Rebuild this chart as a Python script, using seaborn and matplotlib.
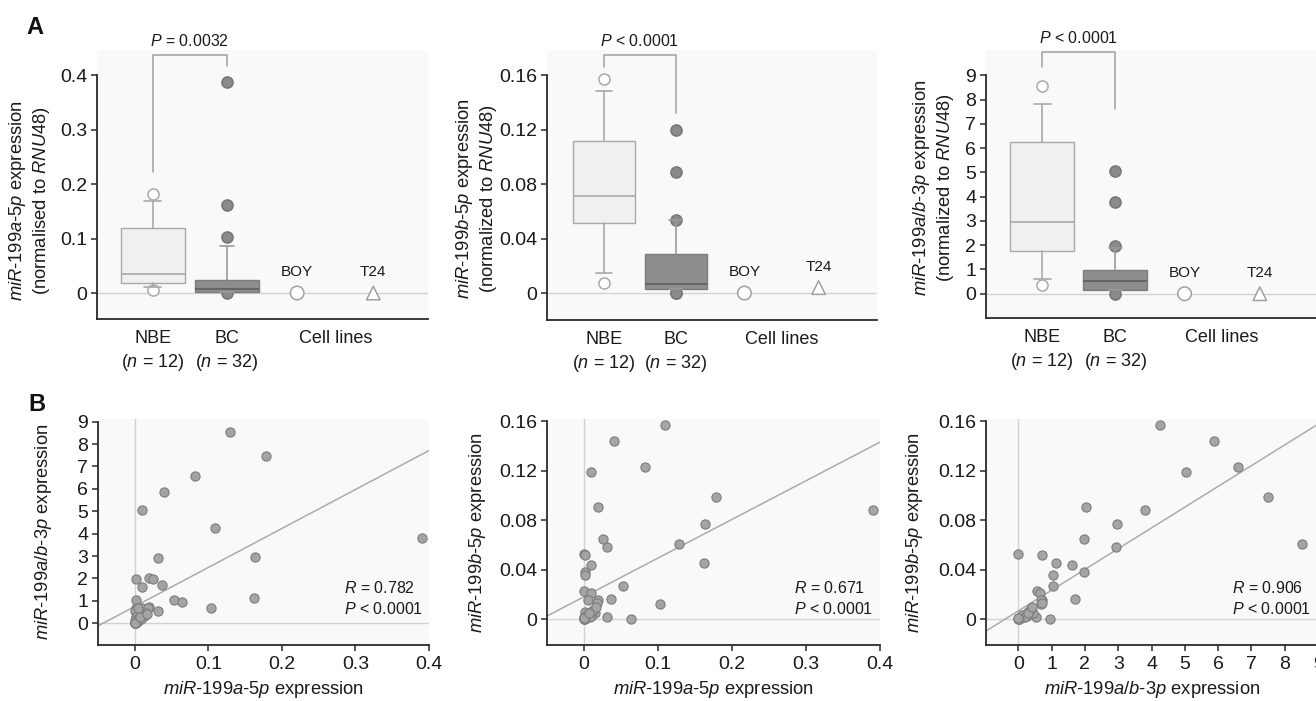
import numpy as np
import pandas as pd
import matplotlib
matplotlib.use("Agg")
import matplotlib.pyplot as plt
import seaborn as sns

sns.set_theme(style="white")
plt.rcParams['font.family'] = ['Liberation Sans', 'DejaVu Sans']
plt.rcParams['mathtext.fontset'] = 'custom'
plt.rcParams['mathtext.rm'] = 'Liberation Sans'
plt.rcParams['mathtext.it'] = 'Liberation Sans:italic'
plt.rcParams['mathtext.bf'] = 'Liberation Sans:bold'

# ---------------- DATA ----------------
groups = ["NBE", "BC"]
group_n = [12, 32]
cell_lines = ["BOY", "T24"]

# Panel A, miR-199a-5p (box statistics per group: NBE, BC)
a5p_q1 = [0.019, 0.001]
a5p_med = [0.035, 0.008]
a5p_q3 = [0.119, 0.024]
a5p_whislo = [0.0104, 0.001]
a5p_whishi = [0.168, 0.086]
a5p_fliers = [[0.181, 0.0055], [0.388, 0.162, 0.103, 0.0]]
a5p_cells = [0.0, 0.0]
a5p_ptext = "$\\mathit{P}$ = 0.0032"

# Panel A, miR-199b-5p
b5p_q1 = [0.0512, 0.0032]
b5p_med = [0.0713, 0.0069]
b5p_q3 = [0.1115, 0.0287]
b5p_whislo = [0.0145, 0.0032]
b5p_whishi = [0.1485, 0.0537]
b5p_fliers = [[0.157, 0.0076], [0.120, 0.0887, 0.0537, 0.0, 0.0]]
b5p_cells = [0.0, 0.004]
b5p_ptext = "$\\mathit{P}$ < 0.0001"

# Panel A, miR-199a/b-3p
ab3p_q1 = [1.77, 0.17]
ab3p_med = [2.97, 0.53]
ab3p_q3 = [6.24, 0.99]
ab3p_whislo = [0.59, 0.17]
ab3p_whishi = [7.80, 1.88]
ab3p_fliers = [[8.55, 0.36], [5.04, 3.79, 1.96, 0.0]]
ab3p_cells = [0.0, 0.0]
ab3p_ptext = "$\\mathit{P}$ < 0.0001"

# Panel B, per-sample expression values
sample_a5p = [0.129, 0.179, 0.082, 0.040, 0.010, 0.109, 0.390, 0.163, 0.031, 0.019,
              0.025, 0.001, 0.037, 0.010, 0.162, 0.053, 0.064, 0.103, 0.001, 0.031,
              0.000, 0.001, 0.000, 0.010, 0.019, 0.005, 0.018, 0.014, 0.002, 0.015,
              0.009, 0.000, 0.006, 0.003, 0.000, 0.000, 0.001, 0.004, 0.012, 0.008,
              0.002, 0.000, 0.007, 0.016]
sample_b5p = [0.061, 0.099, 0.123, 0.144, 0.119, 0.157, 0.088, 0.077, 0.058, 0.091,
              0.065, 0.038, 0.016, 0.044, 0.045, 0.027, 0.000, 0.012, 0.036, 0.002,
              0.053, 0.052, 0.023, 0.0215, 0.0156, 0.0156, 0.0129, 0.0069, 0.0061, 0.005,
              0.0027, 0.002, 0.004, 0.001, 0.000, 0.000, 0.001, 0.003, 0.007, 0.002,
              0.000, 0.001, 0.005, 0.010]
sample_ab3p = [8.52, 7.49, 6.59, 5.87, 5.05, 4.27, 3.80, 2.97, 2.92, 2.03,
               1.96, 1.98, 1.71, 1.61, 1.13, 1.05, 0.95, 0.68, 1.03, 0.53,
               0.00, 0.70, 0.57, 0.66, 0.72, 0.67, 0.70, 0.38, 0.30, 0.45,
               0.25, 0.15, 0.22, 0.08, 0.00, 0.02, 0.05, 0.12, 0.34, 0.20,
               0.03, 0.00, 0.28, 0.40]

# fitted lines (slope, intercept) and statistics
fit_slope = [17.4, 0.313, 0.0168]
fit_intercept = [0.752, 0.0181, 0.0066]
corr_r = ["0.782", "0.671", "0.906"]
corr_p = ["< 0.0001", "< 0.0001", "< 0.0001"]

df = pd.DataFrame({"a5p": sample_a5p, "b5p": sample_b5p, "ab3p": sample_ab3p})

# ---------------- STYLE ----------------
W, H = 1316, 701
fig = plt.figure(figsize=(W / 100, H / 100), dpi=100)
bg = "#f9f9f9"
zero_c = "#d2d2d2"
spine_c = "#2a2a2a"
txt_c = "#1a1a1a"
cat_pos = [0, 1, 1.95, 2.98]
TICK_FS = 14
LABEL_FS = 13.2


def add_ax(l, r, t, b):
    return fig.add_axes([l / W, (H - b) / H, (r - l) / W, (b - t) / H])


def style_axes(ax, ylim, yticks, yticklabels, xticks_on):
    ax.set_facecolor(bg)
    for s in ["top", "right"]:
        ax.spines[s].set_visible(False)
    for s in ["left", "bottom"]:
        ax.spines[s].set_color(spine_c)
        ax.spines[s].set_linewidth(1.3)
    ax.set_ylim(*ylim)
    ax.set_yticks(yticks)
    ax.set_yticklabels(yticklabels)
    ax.spines["left"].set_bounds(ylim[0], yticks[-1])
    ax.tick_params(axis="y", left=True, length=4, width=1.1, color=spine_c,
                   labelsize=TICK_FS, labelcolor=txt_c, pad=3)
    ax.tick_params(axis="x", bottom=xticks_on, length=4 if xticks_on else 0,
                   width=1.1, color=spine_c, labelsize=TICK_FS, labelcolor=txt_c, pad=4)
    ax.grid(False)


def box_panel(ax, q1, med, q3, lo, hi, fliers, cells, xlim, ylim, yticks, ytl,
              ylabel, ptext, bracket, ptext_y, label_xy):
    style_axes(ax, ylim, yticks, ytl, False)
    ax.set_xlim(*xlim)
    ax.axhline(0, color=zero_c, lw=1.0, zorder=0.5)
    box_styles = [
        dict(face="#f0f0f0", edge="#a9a9a9", med="#a9a9a9", whisk="#a9a9a9",
             fmfc="white", fmec="#a9a9a9", cw=0.23),
        dict(face="#8d8d8d", edge="#7c7c7c", med="#5e5e5e", whisk="#9a9a9a",
             fmfc="#8a8a8a", fmec="#767676", cw=0.18),
    ]
    for i in range(2):
        st = box_styles[i]
        stats = [dict(q1=q1[i], med=med[i], q3=q3[i], whislo=lo[i], whishi=hi[i],
                      fliers=fliers[i])]
        ax.bxp(stats, positions=[cat_pos[i]], widths=0.87, capwidths=[st["cw"]],
               patch_artist=True, showfliers=True, manage_ticks=False,
               boxprops=dict(facecolor=st["face"], edgecolor=st["edge"], linewidth=1.0,
                             zorder=2.2),
               medianprops=dict(color=st["med"], linewidth=1.2, zorder=2.3),
               whiskerprops=dict(color=st["whisk"], linewidth=1.2, zorder=2.3),
               capprops=dict(color=st["whisk"], linewidth=1.2, zorder=2.3),
               flierprops=dict(marker="o", markerfacecolor=st["fmfc"],
                               markeredgecolor=st["fmec"], markersize=8,
                               markeredgewidth=1.1, linestyle="none", zorder=1.9))
    cdf = pd.DataFrame({"x": cat_pos[2:], "y": cells, "line": cell_lines})
    sns.scatterplot(data=cdf, x="x", y="y", style="line",
                    markers={"BOY": "o", "T24": "^"}, s=95, facecolor="white",
                    edgecolor="#a0a0a0", linewidth=1.1, legend=False, ax=ax, zorder=3)
    for xp, yv, name in zip(cat_pos[2:], cells, cell_lines):
        ax.annotate(name, (xp, yv), xytext=(0, 15), textcoords="offset points",
                    ha="center", va="center", fontsize=11, color=txt_c)
    ax.set_xlabel("")
    ax.set_ylabel("")
    ax.set_xticks([cat_pos[0], cat_pos[1], (cat_pos[2] + cat_pos[3]) / 2])
    ax.set_xticklabels([f"{groups[0]}\n($\\mathit{{n}}$ = {group_n[0]})",
                        f"{groups[1]}\n($\\mathit{{n}}$ = {group_n[1]})",
                        "Cell lines"], fontsize=13, color=txt_c, linespacing=1.35)
    ax.tick_params(axis="x", pad=8)
    top, l0, l1 = bracket
    ax.plot([cat_pos[0], cat_pos[0], cat_pos[1], cat_pos[1]], [l0, top, top, l1],
            color="#a0a0a0", lw=1.1, clip_on=False, zorder=2)
    ax.text(0.5, ptext_y, ptext, ha="center", va="center", fontsize=11.5,
            color=txt_c, clip_on=False)
    ax.text(label_xy[0], label_xy[1], ylabel, transform=ax.transAxes, rotation=90,
            ha="center", va="center", fontsize=LABEL_FS, color=txt_c,
            linespacing=1.2, multialignment="center")


# ---------- Row A ----------
axA1 = add_ax(97, 428, 50, 319)
box_panel(axA1, a5p_q1, a5p_med, a5p_q3, a5p_whislo, a5p_whishi, a5p_fliers, a5p_cells,
          (-0.757, 3.72), (-0.0477, 0.446), [0, 0.1, 0.2, 0.3, 0.4],
          ["0", "0.1", "0.2", "0.3", "0.4"],
          "$\\mathit{miR}$-$\\mathit{199a}$-$\\mathit{5p}$ expression\n(normalised to $\\mathit{RNU48}$)",
          a5p_ptext, (0.437, 0.222, 0.417), 0.462, (-0.205, 0.44))

axA2 = add_ax(547, 877, 50, 320)
box_panel(axA2, b5p_q1, b5p_med, b5p_q3, b5p_whislo, b5p_whishi, b5p_fliers, b5p_cells,
          (-0.79, 3.79), (-0.0198, 0.1786), [0, 0.04, 0.08, 0.12, 0.16],
          ["0", "0.04", "0.08", "0.12", "0.16"],
          "$\\mathit{miR}$-$\\mathit{199b}$-$\\mathit{5p}$ expression\n(normalized to $\\mathit{RNU48}$)",
          b5p_ptext, (0.175, 0.166, 0.132), 0.185, (-0.215, 0.45))

axA3 = add_ax(986, 1316, 50, 318)
box_panel(axA3, ab3p_q1, ab3p_med, ab3p_q3, ab3p_whislo, ab3p_whishi, ab3p_fliers, ab3p_cells,
          (-0.77, 3.75), (-1.0, 10.04), list(range(10)), [str(i) for i in range(10)],
          "$\\mathit{miR}$-$\\mathit{199a/b}$-$\\mathit{3p}$ expression\n(normalized to $\\mathit{RNU48}$)",
          ab3p_ptext, (9.97, 9.35, 7.62), 10.54, (-0.16, 0.485))

# ---------- Row B ----------
lab = {
    "a5p": "$\\mathit{miR}$-$\\mathit{199a}$-$\\mathit{5p}$ expression",
    "b5p": "$\\mathit{miR}$-$\\mathit{199b}$-$\\mathit{5p}$ expression",
    "ab3p": "$\\mathit{miR}$-$\\mathit{199a/b}$-$\\mathit{3p}$ expression",
}
b_specs = [
    # rect, x, y, xlim, ylim, xticks, xtl, yticks, ytl, ylabel_x
    ((98, 429, 419, 645), "a5p", "ab3p", (-0.05, 0.4), (-0.97, 9.12),
     [0, 0.1, 0.2, 0.3, 0.4], ["0", "0.1", "0.2", "0.3", "0.4"],
     list(range(10)), [str(i) for i in range(10)], -0.165),
    ((547, 880, 419, 645), "a5p", "b5p", (-0.05, 0.4), (-0.021, 0.162),
     [0, 0.1, 0.2, 0.3, 0.4], ["0", "0.1", "0.2", "0.3", "0.4"],
     [0, 0.04, 0.08, 0.12, 0.16], ["0", "0.04", "0.08", "0.12", "0.16"], -0.21),
    ((986, 1318, 419, 645), "ab3p", "b5p", (-0.97, 9.0), (-0.021, 0.162),
     list(range(10)), [str(i) for i in range(10)],
     [0, 0.04, 0.08, 0.12, 0.16], ["0", "0.04", "0.08", "0.12", "0.16"], -0.215),
]
for k, (rect, xv, yv, xlim, ylim, xt, xtl, yt, ytl, ylx) in enumerate(b_specs):
    ax = add_ax(*rect)
    style_axes(ax, ylim, yt, ytl, True)
    ax.set_xlim(*xlim)
    ax.set_xticks(xt)
    ax.set_xticklabels(xtl)
    ax.axhline(0, color=zero_c, lw=1.0, zorder=0.5)
    ax.axvline(0, color=zero_c, lw=1.0, zorder=0.5)
    ax.axline((0, fit_intercept[k]), slope=fit_slope[k], color="#ababab", lw=1.1, zorder=1)
    sns.scatterplot(data=df, x=xv, y=yv, ax=ax, s=44, color="#a4a4a4",
                    edgecolor="#7d7d7d", linewidth=0.8, zorder=3, legend=False)
    ax.set_xlim(*xlim)
    ax.set_ylim(*ylim)
    ax.set_xlabel(lab[xv], fontsize=LABEL_FS, color=txt_c, labelpad=4)
    ax.set_ylabel("")
    ax.text(ylx, 0.5, lab[yv], transform=ax.transAxes, rotation=90, ha="center",
            va="center", fontsize=LABEL_FS, color=txt_c)
    ax.text(0.742, 0.252, f"$\\mathit{{R}}$ = {corr_r[k]}", transform=ax.transAxes,
            ha="left", va="center", fontsize=11.5, color=txt_c)
    ax.text(0.742, 0.159, f"$\\mathit{{P}}$ {corr_p[k]}", transform=ax.transAxes,
            ha="left", va="center", fontsize=11.5, color=txt_c)

fig.text(35 / W, 1 - 27 / H, "A", fontsize=17, fontweight="bold", ha="center",
         va="center", color="#111111")
fig.text(37 / W, 1 - 405 / H, "B", fontsize=17, fontweight="bold", ha="center",
         va="center", color="#111111")

fig.savefig("out.png", dpi=100, facecolor="white")
